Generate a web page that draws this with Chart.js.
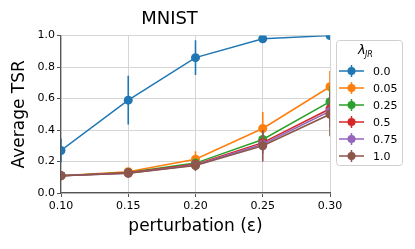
<!DOCTYPE html>
<html>
<head>
<meta charset="utf-8">
<script src="https://cdn.jsdelivr.net/npm/chart.js@4"></script>
<style>
  html, body { margin: 0; padding: 0; background: #fff; }
  #wrap { width: 415px; height: 249px; }
</style>
</head>
<body>
<div id="wrap"><canvas id="tsrChart"></canvas></div>
<script>
const eps = [0.10, 0.15, 0.20, 0.25, 0.30];
const lambdaLabels = ["0.0", "0.05", "0.25", "0.5", "0.75", "1.0"];
const colors = ["#1f77b4", "#ff7f0e", "#2ca02c", "#d62728", "#9467bd", "#8c564b"];

const tsr00 = [0.27, 0.59, 0.86, 0.98, 1.00];
const tsr005 = [0.11, 0.135, 0.215, 0.41, 0.675];
const tsr025 = [0.11, 0.13, 0.19, 0.34, 0.58];
const tsr05 = [0.11, 0.128, 0.182, 0.32, 0.535];
const tsr075 = [0.11, 0.126, 0.178, 0.31, 0.52];
const tsr10 = [0.11, 0.125, 0.175, 0.30, 0.50];

const err00 = [0.075, 0.155, 0.11, 0.01, 0.005];
const err005 = [0.01, 0.01, 0.05, 0.105, 0.1];
const err025 = [0.01, 0.01, 0.02, 0.05, 0.1];
const err05 = [0.01, 0.01, 0.02, 0.05, 0.08];
const err075 = [0.01, 0.01, 0.02, 0.06, 0.1];
const err10 = [0.01, 0.01, 0.035, 0.1, 0.14];

const series = [tsr00, tsr005, tsr025, tsr05, tsr075, tsr10];
const errors = [err00, err005, err025, err05, err075, err10];

const FONT = "'DejaVu Sans', sans-serif";

// vertical error bars, drawn through the y scale
const errorBars = {
  id: "errorBars",
  beforeDatasetDraw(chart, args) {
    const i = args.index;
    const meta = chart.getDatasetMeta(i);
    const y = chart.scales.y;
    const area = chart.chartArea;
    const ctx = chart.ctx;
    ctx.save();
    ctx.beginPath();
    ctx.rect(area.left, area.top, area.right - area.left, area.bottom - area.top);
    ctx.clip();
    ctx.strokeStyle = colors[i];
    ctx.lineWidth = 1.6;
    meta.data.forEach((pt, j) => {
      const v = series[i][j];
      const e = errors[i][j];
      ctx.beginPath();
      ctx.moveTo(pt.x, y.getPixelForValue(v - e));
      ctx.lineTo(pt.x, y.getPixelForValue(v + e));
      ctx.stroke();
    });
    ctx.restore();
  },
};

// matplotlib-style legend box to the right of the axes
const sideLegend = {
  id: "sideLegend",
  afterDraw(chart) {
    const ctx = chart.ctx;
    const x0 = 336, y0 = 40, w = 66, h = 125;
    ctx.save();
    ctx.fillStyle = "rgba(255,255,255,0.8)";
    ctx.strokeStyle = "#d0d0d0";
    ctx.lineWidth = 1;
    ctx.beginPath();
    ctx.roundRect(x0 + 0.5, y0 + 0.5, w, h, 3);
    ctx.fill();
    ctx.stroke();

    ctx.fillStyle = "#000";
    ctx.textBaseline = "alphabetic";
    ctx.font = "italic 13px " + FONT;
    ctx.fillText("λ", 358, 54);
    ctx.font = "italic 8px " + FONT;
    ctx.fillText("JR", 365, 57);

    lambdaLabels.forEach((lab, k) => {
      const cy = 71 + k * 17;
      ctx.strokeStyle = colors[k];
      ctx.lineWidth = 1.5;
      ctx.beginPath();
      ctx.moveTo(339, cy);
      ctx.lineTo(364, cy);
      ctx.moveTo(351.5, cy - 6);
      ctx.lineTo(351.5, cy + 6);
      ctx.stroke();
      ctx.fillStyle = colors[k];
      ctx.beginPath();
      ctx.arc(351.5, cy, 4, 0, Math.PI * 2);
      ctx.fill();
      ctx.fillStyle = "#000";
      ctx.font = "11px " + FONT;
      ctx.textBaseline = "middle";
      ctx.fillText(lab, 373, cy + 1);
    });
    ctx.restore();
  },
};

new Chart(document.getElementById("tsrChart"), {
  type: "line",
  data: {
    datasets: series.map((vals, i) => ({
      label: lambdaLabels[i],
      data: eps.map((x, j) => ({ x: x, y: vals[j] })),
      borderColor: colors[i],
      backgroundColor: colors[i],
      borderWidth: 1.5,
      pointRadius: 4.5,
      pointBorderWidth: 0,
      pointHoverRadius: 4.5,
      tension: 0,
      order: series.length - i,
    })),
  },
  options: {
    responsive: true,
    maintainAspectRatio: false,
    animation: false,
    events: [],
    layout: { padding: { left: 9, right: 85, top: 0, bottom: 12 } },
    plugins: {
      legend: { display: false },
      tooltip: { enabled: false },
      title: {
        display: true,
        text: "MNIST",
        color: "#000",
        font: { family: FONT, size: 18, weight: "normal" },
        padding: { top: 9, bottom: 5 },
      },
    },
    scales: {
      x: {
        type: "linear",
        min: 0.1,
        max: 0.3,
        ticks: {
          stepSize: 0.05,
          color: "#000",
          padding: 3,
          maxRotation: 0,
          font: { family: FONT, size: 11 },
          callback: (v) => v.toFixed(2),
        },
        grid: { color: "#d6d6d6", tickColor: "#555", tickLength: 4, lineWidth: 1 },
        border: { color: "#555", width: 1.2 },
        title: {
          display: true,
          text: "perturbation (ε)",
          color: "#000",
          font: { family: FONT, size: 17 },
          padding: { top: 0, bottom: 0 },
        },
        afterFit: (s) => { s.height = 44; },
      },
      y: {
        min: 0,
        max: 1,
        ticks: {
          stepSize: 0.2,
          color: "#000",
          padding: 2,
          font: { family: FONT, size: 11 },
          callback: (v) => v.toFixed(1),
        },
        grid: { color: "#d6d6d6", tickColor: "#555", tickLength: 4, lineWidth: 1 },
        border: { color: "#555", width: 1.2 },
        title: {
          display: true,
          text: "Average TSR",
          color: "#000",
          font: { family: FONT, size: 17 },
          padding: { top: 0, bottom: 0 },
        },
        afterFit: (s) => { s.width = 52; },
      },
    },
  },
  plugins: [errorBars, sideLegend],
});
</script>
</body>
</html>
